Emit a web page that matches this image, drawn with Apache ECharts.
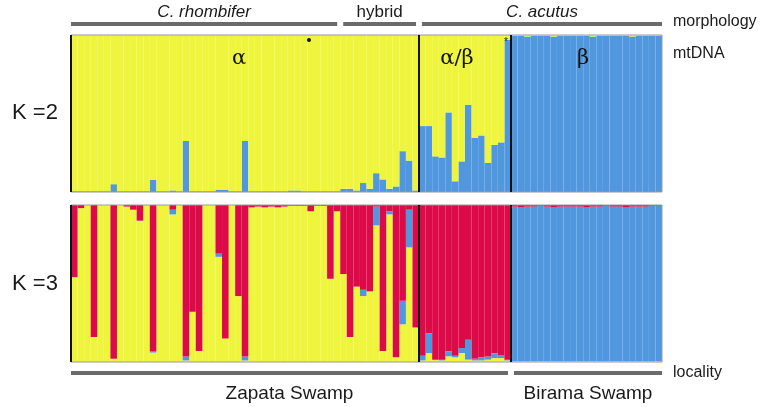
<!DOCTYPE html>
<html><head><meta charset="utf-8">
<script src="https://cdn.jsdelivr.net/npm/echarts@6/dist/echarts.min.js"></script>
<style>html,body{margin:0;padding:0;background:#fff}#c{width:766px;height:407px}</style>
</head><body><div id="c"></div>
<script>
// ---- data: individuals (90) in three sections ----
const N_ALPHA = 53, N_AB = 14, N_BETA = 23;
const individuals = [];
for (let i = 1; i <= N_ALPHA + N_AB + N_BETA; i++) individuals.push('ind' + i);

// K = 2 (blue bottom, yellow top)
const k2BlueAlpha = [0.005,0.005,0.005,0.005,0.005,0.005,0.05,0.005,0.005,0.005,
 0.005,0.005,0.077,0.005,0.005,0.01,0.005,0.325,0.005,0.005,
 0.005,0.005,0.015,0.015,0.005,0.005,0.325,0.005,0.005,0.005,
 0.005,0.005,0.005,0.01,0.01,0.005,0.005,0.005,0.005,0.005,
 0.005,0.02,0.02,0.01,0.057,0.02,0.12,0.08,0.02,0.035,
 0.26,0.2,0.01];
const k2BlueAB = [0.42,0.42,0.227,0.22,0.507,0.068,0.195,0.556,0.344,0.36,0.185,0.30,0.316,0.97];
const k2BlueBeta = [0.995,0.995,0.99,0.995,0.995,0.995,0.99,0.995,0.995,0.995,0.995,0.995,0.99,0.995,0.995,0.995,0.995,0.995,0.99,0.995,0.995,0.995,0.995];
const k2YellowAlpha = [0.995,0.995,0.995,0.995,0.995,0.995,0.95,0.995,0.995,0.995,
 0.995,0.995,0.923,0.995,0.995,0.99,0.995,0.675,0.995,0.995,
 0.995,0.995,0.985,0.985,0.995,0.995,0.675,0.995,0.995,0.995,
 0.995,0.995,0.995,0.99,0.99,0.995,0.995,0.995,0.995,0.995,
 0.995,0.98,0.98,0.99,0.943,0.98,0.88,0.92,0.98,0.965,
 0.74,0.8,0.99];
const k2YellowAB = [0.58,0.58,0.773,0.78,0.493,0.932,0.805,0.444,0.656,0.64,0.815,0.70,0.684,0.03];
const k2YellowBeta = [0.005,0.005,0.01,0.005,0.005,0.005,0.01,0.005,0.005,0.005,0.005,0.005,0.01,0.005,0.005,0.005,0.005,0.005,0.01,0.005,0.005,0.005,0.005];

// K = 3 (yellow bottom, blue middle, red top)
const k3YellowAlpha = [0.54,0.98,1,0.16,1,1,0.02,1,0.99,0.97,
 0.90,1,0.06,1,1,0.94,1,0.01,0.32,0.07,
 1,1,0.67,0.15,1,0.42,0.01,0.985,0.99,0.985,
 0.99,0.985,0.99,0.995,0.995,0.995,0.96,0.995,0.995,0.53,
 0.96,0.56,0.16,0.48,0.42,0.45,0.87,0.07,0.94,0.03,
 0.24,0.73,0.22];
const k3BlueAlpha = [0,0,0,0,0,0,0,0,0,0,
 0,0,0.01,0,0,0.03,0,0.025,0,0,
 0,0,0.02,0,0,0,0.025,0,0,0,
 0,0,0,0,0,0,0,0,0,0,
 0,0,0,0,0.04,0,0.12,0,0.02,0,
 0.15,0.24,0];
const k3RedAlpha = [0.46,0.02,0,0.84,0,0,0.98,0,0.01,0.03,
 0.10,0,0.93,0,0,0.03,0,0.965,0.68,0.93,
 0,0,0.31,0.85,0,0.58,0.965,0.015,0.01,0.015,
 0.01,0.015,0.01,0.005,0.005,0.005,0.04,0.005,0.005,0.47,
 0.04,0.44,0.84,0.52,0.54,0.55,0.01,0.93,0.04,0.97,
 0.61,0.03,0.78];
const k3YellowAB = [0.01,0.057,0.015,0.01,0.036,0.03,0.057,0.015,0.01,0.01,0.015,0.025,0.025,0.01];
const k3BlueAB = [0.03,0.127,0,0.005,0.032,0.01,0.032,0.127,0.01,0.02,0.02,0.03,0.02,0.005];
const k3RedAB = [0.96,0.816,0.985,0.985,0.932,0.96,0.911,0.858,0.98,0.97,0.965,0.945,0.955,0.985];
const k3YellowBeta = [0.005,0.005,0.005,0.005,0.005,0.005,0.005,0.005,0.005,0.005,0.005,0.005,0.005,0.005,0.005,0.005,0.005,0.005,0.005,0.005,0.005,0.005,0.005];
const k3BlueBeta = [0.985,0.98,0.985,0.985,0.99,0.985,0.98,0.985,0.985,0.985,0.985,0.98,0.985,0.985,0.99,0.985,0.985,0.98,0.985,0.985,0.985,0.99,0.99];
const k3RedBeta = [0.01,0.015,0.01,0.01,0.005,0.01,0.015,0.01,0.01,0.01,0.01,0.015,0.01,0.01,0.005,0.01,0.01,0.015,0.01,0.01,0.01,0.005,0.005];

// group annotations
const morphNames = ['C. rhombifer', 'hybrid', 'C. acutus'];
const morphItalic = [true, false, true];
const morphStart = [0, 41, 53];
const morphEnd = [41, 53, 90];
const localityNames = ['Zapata Swamp', 'Birama Swamp'];
const localityStart = [0, 67];
const localityEnd = [67, 90];
const sectionBoundaries = [0, 53, 67];
const mtLabels = ['α', 'α/β', 'β'];

const k2Blue = k2BlueAlpha.concat(k2BlueAB, k2BlueBeta);
const k2Yellow = k2YellowAlpha.concat(k2YellowAB, k2YellowBeta);
const k3Yellow = k3YellowAlpha.concat(k3YellowAB, k3YellowBeta);
const k3Blue = k3BlueAlpha.concat(k3BlueAB, k3BlueBeta);
const k3Red = k3RedAlpha.concat(k3RedAB, k3RedBeta);
const N = individuals.length;

const YELLOW = '#eef53c', BLUE = '#5097de', RED = '#dc0a48';
const FONT = 'Liberation Sans';

function bar(name, data, color, grid, stack) {
  return { type: 'bar', name, data, stack, xAxisIndex: grid, yAxisIndex: grid,
    barCategoryGap: '0%', itemStyle: { color }, silent: true, animation: false };
}
function divider(grid) {
  return { type: 'line', xAxisIndex: 2 + grid, yAxisIndex: 2 + grid, data: [], silent: true,
    markLine: { symbol: 'none', silent: true, animation: false, label: { show: false },
      lineStyle: { color: '#111', width: 2, type: 'solid' },
      data: sectionBoundaries.map(v => ({ xAxis: v })) } };
}

const gridTops = [35, 205];
const option = {
  backgroundColor: '#fff',
  animation: false,
  grid: gridTops.map(t => ({ left: 71, top: t, width: 591, height: 157, show: true,
    borderColor: '#9a9a9a', borderWidth: 1, z: 5, backgroundColor: 'transparent' })),
  xAxis: [
    { type: 'category', gridIndex: 0, data: individuals, show: false },
    { type: 'category', gridIndex: 1, data: individuals, show: false },
    { type: 'value', gridIndex: 0, min: 0, max: N, show: false },
    { type: 'value', gridIndex: 1, min: 0, max: N, show: false }
  ],
  yAxis: [0, 1, 0, 1].map(g => ({ type: 'value', gridIndex: g, min: 0, max: 1, show: false })),
  series: [
    bar('K2 cluster blue', k2Blue, BLUE, 0, 'k2'),
    bar('K2 cluster yellow', k2Yellow, YELLOW, 0, 'k2'),
    bar('K3 cluster yellow', k3Yellow, YELLOW, 1, 'k3'),
    bar('K3 cluster blue', k3Blue, BLUE, 1, 'k3'),
    bar('K3 cluster red', k3Red, RED, 1, 'k3'),
    divider(0), divider(1)
  ]
};

const chart = echarts.init(document.getElementById('c'));
chart.setOption(option);

const px = v => chart.convertToPixel({ xAxisIndex: 2 }, v);
const gfx = [];
const GAP = 3;
morphNames.forEach((nm, i) => {
  const x1 = px(morphStart[i]) + (morphStart[i] > 0 ? GAP : 0);
  const x2 = px(morphEnd[i]) - (morphEnd[i] < N ? GAP : 0);
  gfx.push({ type: 'line', shape: { x1, y1: 24, x2, y2: 24 }, style: { stroke: '#6b6b6b', lineWidth: 4 } });
  gfx.push({ type: 'text', x: (x1 + x2) / 2, y: 12, style: { text: nm, fill: '#1a1a1a',
    font: (morphItalic[i] ? 'italic ' : '') + '17px "' + FONT + '"', align: 'center', verticalAlign: 'middle' } });
});
localityNames.forEach((nm, i) => {
  const x1 = px(localityStart[i]) + (localityStart[i] > 0 ? GAP : 0);
  const x2 = px(localityEnd[i]) - (localityEnd[i] < N ? GAP : 0);
  gfx.push({ type: 'line', shape: { x1, y1: 373, x2, y2: 373 }, style: { stroke: '#6b6b6b', lineWidth: 4 } });
  gfx.push({ type: 'text', x: (x1 + x2) / 2, y: 394, style: { text: nm, fill: '#1a1a1a',
    font: '19px "' + FONT + '"', align: 'center', verticalAlign: 'middle' } });
});
[['morphology', 22], ['mtDNA', 54], ['locality', 373]].forEach(([t, y]) => {
  gfx.push({ type: 'text', x: 673, y, style: { text: t, fill: '#1a1a1a', font: '16px "' + FONT + '"', verticalAlign: 'middle' } });
});
[['K =2', 113], ['K =3', 284]].forEach(([t, y]) => {
  gfx.push({ type: 'text', x: 12, y, style: { text: t, fill: '#1a1a1a', font: '22px "' + FONT + '"', verticalAlign: 'middle' } });
});
[[mtLabels[0], 239], [mtLabels[1], 457], [mtLabels[2], 583]].forEach(([t, x]) => {
  gfx.push({ type: 'text', x, y: 59, z: 10, style: { text: t, fill: '#111', font: '21px "DejaVu Serif"', align: 'center', verticalAlign: 'middle' } });
});
gfx.push({ type: 'circle', shape: { cx: 309, cy: 40, r: 2 }, z: 10, style: { fill: '#111' } });
gfx.push({ type: 'text', x: 506, y: 42, z: 10, style: { text: '*', fill: '#222', font: '10px "' + FONT + '"', align: 'center', verticalAlign: 'middle' } });
chart.setOption({ graphic: gfx });
</script>
</body></html>
